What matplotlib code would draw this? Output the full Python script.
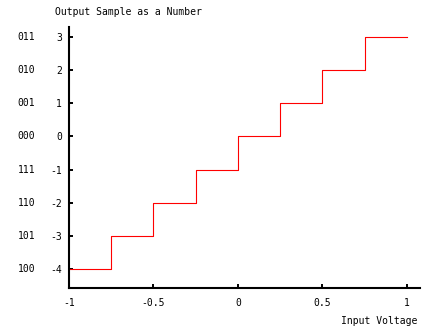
import matplotlib.pyplot as plt
import numpy as np

# quantizer: input voltage edges and output levels
edges = [-1.0, -0.75, -0.5, -0.25, 0.0, 0.25, 0.5, 0.75, 1.0]
levels = [-4, -3, -2, -1, 0, 1, 2, 3]
codes = ['100', '101', '110', '111', '000', '001', '010', '011']
xticks = [-1, -0.5, 0, 0.5, 1]
xticklabels = ['-1', '-0.5', '0', '0.5', '1']

plt.rcParams['font.family'] = 'DejaVu Sans Mono'
plt.rcParams['font.size'] = 7

fig = plt.figure(figsize=(4.35, 3.34), dpi=100)
ax = fig.add_axes([69/435, 46/334, 351/435, 261/334])

ax.step(edges, levels + [levels[-1]], where='post', color='red', lw=0.8)

ax.set_xlim(-1, 1.077)
ax.set_ylim(-4.57, 3.3)
ax.set_xticks(xticks)
ax.set_xticklabels(xticklabels)
ax.set_yticks(levels)
ax.set_yticklabels([str(v) for v in levels])
ax.tick_params(direction='in', length=3, width=1.4)
ax.tick_params(axis='y', pad=5)
ax.tick_params(axis='x', pad=7)

for s in ['top', 'right']:
    ax.spines[s].set_visible(False)
for s in ['left', 'bottom']:
    ax.spines[s].set_linewidth(1.5)

# binary code column
for v, c in zip(levels, codes):
    ax.annotate(c, xy=(0, v), xycoords=('axes fraction', 'data'),
                xytext=(-34, 0), textcoords='offset pixels',
                ha='right', va='center')

fig.text(55/435, 1 - 12/334, 'Output Sample as a Number', ha='left', va='center')
fig.text(417/435, 1 - 321/334, 'Input Voltage', ha='right', va='center')

fig.savefig('out.png', dpi=100)
